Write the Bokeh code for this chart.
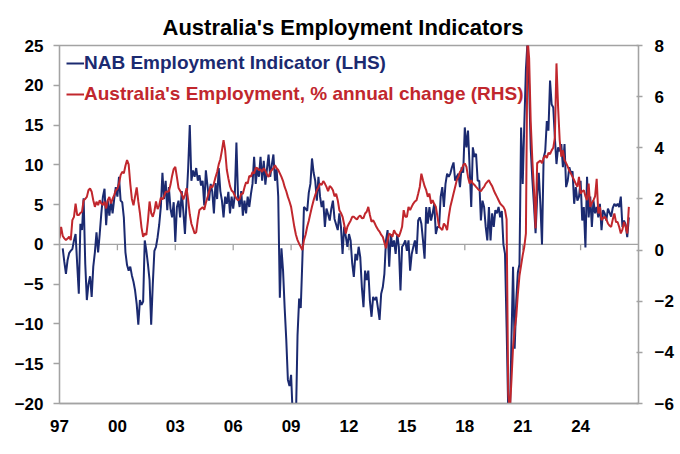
import numpy as np
from bokeh.plotting import figure
from bokeh.models import Range1d, LinearAxis, FixedTicker, Span, Legend, LegendItem
from bokeh.embed import file_html
from bokeh.resources import INLINE

# ---------------- data ----------------
title_text = "Australia's Employment Indicators"
nab_label = "NAB Employment Indicator (LHS)"
emp_label = "Australia's Employment, % annual change (RHS)"

# NAB Employment Indicator, monthly, starting March 1997 (LHS)
nab_start = (1997, 3)
nab = [
    -0.5, -2.2, -3.7, -2.0, -1.1, -0.8, -0.6, 0.5, 1.3, -2.5,                 # 1997 (Mar-Dec)
    -6.2, 2.6, 1.8, 5.8, -2.4, -7.0, -5.0, -4.0, -6.6, -2.8, -1.0, 1.5,        # 1998
    -1.0, 1.3, 3.9, 6.0, 7.0, 2.4, 5.5, 3.6, 5.5, 3.9, 5.7, 7.2,               # 1999
    6.0, 8.5, 5.5, 5.3, 3.4, -1.0, -2.6, -3.3, -2.8, -3.9, -4.7, -5.8,         # 2000
    -7.5, -10.1, -7.0, -7.6, -7.2, 0.5, -0.8, -2.5, -4.5, -10.1, -5.0, -0.8,   # 2001
    -0.3, 0.9, 2.5, 4.7, 9.0, 5.7, 8.0, 4.3, 7.2, 4.5, 3.4, 5.3,               # 2002
    0.3, 4.7, 5.5, 3.4, 6.7, 4.1, 1.3, 5.5, 9.6, 15.0, 8.0, 9.3,               # 2003
    8.5, 9.6, 8.0, 8.7, 7.4, 8.0, 4.9, 9.3, 7.4, 5.5, 7.6, 6.6,                # 2004
    3.9, 7.7, 5.7, 9.6, 6.7, 5.5, 3.4, 6.0, 5.1, 6.6, 3.9, 6.0,                # 2005
    4.5, 6.2, 12.8, 6.0, 4.7, 6.7, 3.6, 5.5, 3.9, 6.0, 4.7, 6.3,               # 2006
    7.6, 11.0, 7.6, 9.6, 8.5, 11.0, 8.0, 10.5, 7.5, 9.5, 11.3, 8.5,            # 2007
    10.0, 11.3, 8.0, 9.5, 6.0, -6.7, -0.5, -3.3, -8.0, -12.0, -17.0, -17.8,    # 2008
    -16.4, -21.5, -23.0, -22.0, -11.4, -6.8, -8.0, -2.0, 4.7, 4.5, 4.2, 6.5,   # 2009
    7.6, 10.8, 9.0, 8.0, 5.5, 8.5, 6.0, 4.7, 5.5, 2.2, 4.5, 3.8,               # 2010
    3.0, 4.5, 5.5, 3.2, 2.5, 1.8, 3.9, 2.2, -1.2, 2.2, 1.0, -0.3,              # 2011
    1.3, 0.5, -2.4, -4.1, -1.2, -2.0, -0.3, -1.6, -5.4, -7.9, -3.3, -4.5,      # 2012
    -3.3, -7.1, -9.1, -6.6, -7.0, -6.6, -8.0, -9.5, -6.2, -5.4, -3.7, 0.5,     # 2013
    1.8, -2.8, 1.3, -0.3, 0.5, -1.2, 1.3, -0.3, -5.8, -0.3, 0.0, 0.5,          # 2014
    -0.8, 0.5, -3.3, -1.2, -0.3, 0.5, -1.2, 3.0, 3.4, 2.6, 0.5, -1.8,          # 2015
    4.7, 2.6, 4.7, 3.0, 3.9, 5.1, 1.3, 2.2, 2.2, 6.0, 7.2, 4.7,                # 2016
    7.6, 8.9, 8.5, 8.9, 9.7, 10.3, 8.0, 8.5, 8.9, 7.2, 9.7, 9.0,               # 2017
    14.7, 12.2, 14.3, 9.7, 4.7, 12.2, 11.0, 11.4, 8.0, 8.0, 3.0, 5.5,          # 2018
    4.7, 2.2, 0.5, 4.7, 0.5, 3.9, 2.2, 4.3, 3.9, 4.7, 3.4, 4.2,                # 2019
    0.0, -1.2, -10.4, -21.0, -22.0, -12.1, -2.8, -13.1, -7.0, -3.5, -2.5, 14.7,  # 2020
    7.6, 15.1, 22.0, 25.5, 20.0, 12.0, 8.2, 5.0, 1.4, 6.0, 9.0, 5.0,           # 2021
    0.0, 10.9, 11.7, 15.5, 14.3, 20.6, 17.6, 17.2, 13.4, 10.1, 12.2, 11.7,     # 2022
    12.6, 9.7, 12.6, 7.2, 8.0, 9.7, 8.9, 9.2, 5.1, 7.2, 5.5, 6.0,              # 2023
    8.0, 3.0, 4.7, -0.4, 8.5, 3.4, 6.0, 2.2, 5.5, 3.9, 4.7, 3.4,               # 2024
    5.1, 1.8, 4.3, 3.9, 3.0, 4.5, 4.0, 3.5, 4.6, 5.1, 4.8, 5.1,                # 2025
    4.7, 6.0, 2.2, 3.0, 2.5, 0.9, 3.4,                                         # 2026 (Jan-Jul)
]

# Australia's employment, % annual change, monthly, starting January 1997 (RHS)
emp_start = (1997, 1)
emp = [
    0.46, 0.91, 0.55, 0.46, 0.39, 0.45, 0.52, 0.39, 1.17, 1.3, 1.82, 1.37,     # 1997
    1.37, 1.45, 1.5, 1.95, 2.0, 2.08, 2.34, 2.41, 2.28, 1.95, 1.69, 1.89,      # 1998
    1.76, 1.95, 1.82, 1.76, 1.89, 1.63, 1.95, 2.08, 1.82, 2.0, 2.15, 2.34,     # 1999
    2.4, 2.6, 2.93, 3.06, 3.0, 3.3, 3.52, 3.35, 2.6, 2.0, 1.75, 2.1,           # 2000
    2.45, 1.9, 1.45, 0.88, 0.52, 0.65, 0.59, 1.15, 1.9, 1.45, 1.3, 1.52,       # 2001
    1.9, 1.6, 1.75, 2.05, 1.98, 2.1, 2.28, 2.28, 2.3, 2.55, 2.9, 3.17,         # 2002
    3.25, 2.85, 2.43, 2.32, 2.2, 1.98, 2.15, 2.42, 1.95, 1.4, 1.03, 0.85,      # 2003
    0.65, 0.7, 1.2, 1.57, 1.62, 1.68, 1.58, 1.85, 2.05, 2.28, 2.5, 2.45,       # 2004
    2.6, 2.85, 3.05, 3.35, 3.55, 3.9, 4.3, 3.9, 3.15, 2.8, 2.5, 2.33,          # 2005
    2.27, 2.13, 2.02, 1.95, 2.0, 2.2, 2.2, 2.45, 2.65, 2.6, 2.9, 2.87,         # 2006
    3.05, 3.0, 3.22, 3.2, 3.13, 3.15, 3.06, 3.2, 3.1, 2.95, 2.86, 3.05,        # 2007
    3.13, 3.2, 3.32, 3.2, 3.13, 3.0, 2.86, 2.7, 2.47, 2.3, 2.08, 1.9,          # 2008
    1.69, 1.3, 0.91, 0.6, 0.39, 0.25, 0.13, 0.0, 0.39, 0.6, 0.91, 1.15,        # 2009
    1.43, 1.7, 1.95, 2.15, 2.34, 2.45, 2.6, 2.55, 2.7, 2.6, 2.47, 2.3,         # 2010
    2.5, 2.45, 2.34, 2.1, 2.2, 1.95, 1.56, 1.45, 1.3, 1.0, 0.65, 0.91,         # 2011
    1.04, 1.15, 1.3, 1.3, 1.24, 1.2, 1.3, 1.35, 1.24, 1.25, 1.43, 1.5,         # 2012
    1.69, 1.37, 1.11, 1.17, 1.05, 0.91, 0.8, 0.72, 0.6, 0.52, 0.3, 0.07,       # 2013
    0.39, 0.65, 0.6, 0.52, 0.78, 0.65, 0.6, 0.52, 0.7, 0.91, 1.56, 1.3,        # 2014
    1.3, 1.69, 1.56, 1.7, 1.82, 1.9, 1.95, 2.2, 2.47, 2.99, 2.73, 2.5,         # 2015
    2.34, 2.08, 2.21, 1.82, 1.95, 1.8, 1.69, 1.3, 0.91, 0.85, 0.78, 1.04,      # 2016
    0.95, 0.78, 1.3, 1.69, 1.95, 2.21, 2.47, 2.73, 2.86, 3.06, 3.13, 3.32,     # 2017
    3.39, 3.26, 2.86, 2.6, 2.73, 2.6, 2.55, 2.47, 2.4, 2.34, 2.3, 2.4,         # 2018
    2.47, 2.6, 2.67, 2.73, 2.6, 2.5, 2.34, 2.2, 2.08, 1.95, 1.82, 1.75,        # 2019
    1.69, 1.56, 1.2, -5.6, -6.3, -5.1, -3.8, -3.1, -2.6, -1.7, -1.0, -0.6,     # 2020
    -0.2, 0.13, 0.65, 8.3, 7.5, 5.0, 3.5, 2.4, 0.85, 3.4, 3.45, 3.5,           # 2021
    3.4, 3.6, 3.7, 3.6, 3.8, 3.75, 3.9, 4.0, 4.4, 7.3, 5.6, 4.3,               # 2022
    3.65, 3.9, 3.52, 3.4, 3.26, 3.1, 2.99, 2.86, 2.73, 2.6, 2.47, 2.86,        # 2023
    2.21, 2.3, 2.34, 2.1, 1.95, 2.6, 1.69, 1.85, 1.95, 2.1, 2.79, 1.43,        # 2024
    1.69, 1.17, 1.25, 1.3, 1.2, 1.04, 0.95, 0.91, 1.2, 1.43, 1.1, 1.1,         # 2025
    0.9, 0.65, 0.8, 1.1, 0.9, 0.65, 1.69,                                      # 2026 (Jan-Jul)
]

x_ticks = [1997, 2000, 2003, 2006, 2009, 2012, 2015, 2018, 2021, 2024]
x_labels = ["97", "00", "03", "06", "09", "12", "15", "18", "21", "24"]
lhs_ticks = [-20, -15, -10, -5, 0, 5, 10, 15, 20, 25]
rhs_ticks = [-6, -4, -2, 0, 2, 4, 6, 8]
x_limits = (1997, 2027)
lhs_limits = (-20, 25)
rhs_limits = (-6, 8)


def month_axis(start, n):
    year, month = start
    return year + (month - 1) / 12.0 + np.arange(n) / 12.0


# ---------------- styling ----------------
NAVY = "#1B2A70"
RED = "#C1272D"
GRAY = "#A3A3A3"
FONT = "Liberation Sans"

p = figure(
    width=676, height=446,
    x_range=Range1d(*x_limits), y_range=Range1d(*lhs_limits),
    output_backend="svg", toolbar_location=None,
    min_border_left=59, min_border_right=38, min_border_top=45, min_border_bottom=43,
)
p.extra_y_ranges = {"rhs": Range1d(*rhs_limits)}

p.title.text = title_text
p.title.align = "left"
p.title.offset = 103
p.title.vertical_align = "top"
p.title.text_line_height = 0.7
p.title.text_font = FONT
p.title.text_font_style = "bold"
p.title.text_font_size = "22px"
p.title.text_color = "black"
p.title.standoff = 8

p.xgrid.visible = False
p.ygrid.visible = False
p.outline_line_color = GRAY
p.outline_line_width = 1.3
p.background_fill_color = "white"
p.border_fill_color = "white"

# left axis
ya = p.yaxis[0]
ya.ticker = FixedTicker(ticks=lhs_ticks)
# right axis
ra = LinearAxis(y_range_name="rhs", ticker=FixedTicker(ticks=rhs_ticks))
p.add_layout(ra, "right")

for ax, standoff, t_out, t_in in ((ya, 10, 6, 0), (ra, 12, 4, 2)):
    ax.axis_line_color = GRAY
    ax.axis_line_width = 1.3
    ax.major_tick_line_color = GRAY
    ax.major_tick_line_width = 1.3
    ax.major_tick_out = t_out
    ax.major_tick_in = t_in
    ax.minor_tick_line_color = None
    ax.axis_label_standoff = 0
    ax.major_label_text_font = FONT
    ax.major_label_text_font_style = "bold"
    ax.major_label_text_font_size = "17px"
    ax.major_label_text_color = "black"
    ax.major_label_standoff = standoff

xa = p.xaxis[0]
xa.ticker = FixedTicker(ticks=x_ticks)
xa.major_label_overrides = {t: lab for t, lab in zip(x_ticks, x_labels)}
xa.axis_line_color = GRAY
xa.axis_line_width = 1.3
xa.major_tick_line_color = None
xa.minor_tick_line_color = None
xa.major_tick_out = 0
xa.major_tick_in = 0
xa.major_label_standoff = 16
xa.major_label_text_font = FONT
xa.major_label_text_font_style = "bold"
xa.major_label_text_font_size = "17px"
xa.major_label_text_color = "black"

# zero line with its small downward ticks
p.add_layout(Span(location=0, dimension="width", line_color=GRAY, line_width=1.3, level="underlay"))
p.segment(x0=x_ticks, y0=[0] * len(x_ticks), x1=x_ticks, y1=[-0.75] * len(x_ticks),
          line_color=GRAY, line_width=1.3, level="underlay")

# series
r_nab = p.line(month_axis(nab_start, len(nab)), nab, line_color=NAVY, line_width=2)
r_emp = p.line(month_axis(emp_start, len(emp)), emp, y_range_name="rhs", line_color=RED, line_width=2)

# legends (one per series so each label keeps its own colour)
for label, rend, color, loc in ((nab_label, r_nab, NAVY, (7, 329)), (emp_label, r_emp, RED, (7, 298.5))):
    leg = Legend(items=[LegendItem(label=label, renderers=[rend])], location=loc)
    leg.label_text_font = FONT
    leg.label_text_font_style = "bold"
    leg.label_text_font_size = "19px"
    leg.label_text_color = color
    leg.glyph_width = 18
    leg.glyph_height = 22
    leg.label_height = 22
    leg.label_standoff = 0
    leg.padding = 0
    leg.margin = 0
    leg.spacing = 0
    leg.border_line_color = None
    leg.background_fill_alpha = 0
    p.add_layout(leg)

open("out.html", "w").write(file_html(p, INLINE))
